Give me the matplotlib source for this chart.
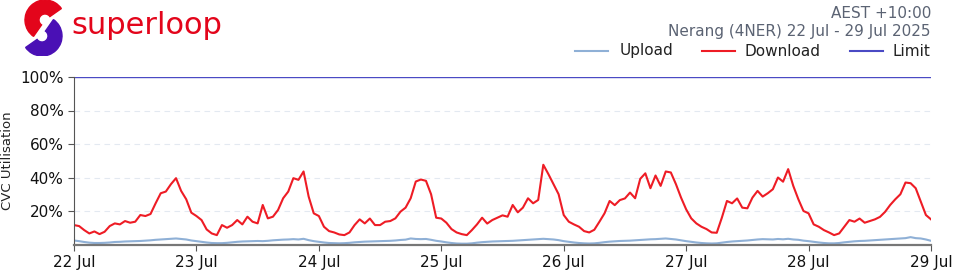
import numpy as np
import matplotlib
matplotlib.use("Agg")
import matplotlib.pyplot as plt
from matplotlib.patches import Wedge
from matplotlib.lines import Line2D

# dias no eixo x
dias = ["22 Jul", "23 Jul", "24 Jul", "25 Jul", "26 Jul", "27 Jul", "28 Jul", "29 Jul"]

# download (%), valores por hora, um dia por lista
download_22 = [11.6, 11.0, 8.6, 6.6, 7.8, 6.2, 7.6, 11.0, 12.6, 12.0, 14.0, 13.0, 13.6, 17.6, 17.0, 18.2, 24.6, 30.6, 31.6, 36.0, 39.6, 32.0, 27.0, 19.0]
download_23 = [17.0, 14.6, 9.0, 6.6, 5.6, 11.6, 10.0, 11.6, 14.6, 12.0, 16.6, 13.6, 12.6, 23.6, 15.6, 16.6, 20.6, 27.6, 31.6, 39.6, 38.6, 43.6, 28.6, 18.6]
download_24 = [17.0, 10.6, 8.0, 7.2, 6.0, 5.6, 7.2, 11.6, 15.0, 12.6, 15.5, 11.6, 11.6, 13.6, 14.0, 15.6, 19.6, 22.0, 27.6, 37.6, 38.8, 38.0, 30.0, 16.0]
download_25 = [15.5, 13.0, 9.2, 7.2, 6.2, 5.6, 8.6, 12.0, 16.0, 12.5, 14.6, 16.0, 17.4, 16.6, 23.6, 19.2, 22.0, 27.6, 24.6, 26.6, 47.6, 42.0, 36.0, 30.0]
download_26 = [17.6, 13.6, 12.0, 10.6, 8.0, 7.2, 8.8, 13.6, 18.6, 26.0, 23.5, 26.5, 27.5, 31.0, 27.6, 39.2, 42.5, 33.6, 41.2, 35.0, 43.6, 43.0, 36.0, 28.0]
download_27 = [21.0, 15.6, 12.6, 10.6, 9.2, 7.2, 7.0, 16.0, 26.0, 24.6, 27.5, 22.0, 21.6, 28.0, 32.0, 28.6, 30.6, 33.0, 40.0, 37.5, 45.0, 35.0, 27.0, 20.0]
download_28 = [18.6, 12.0, 10.6, 8.6, 7.2, 5.6, 6.6, 10.6, 14.6, 13.6, 15.5, 13.0, 14.0, 15.0, 16.5, 19.5, 23.6, 27.0, 30.0, 37.0, 36.6, 33.6, 25.6, 17.6]
download_fim = [15.0]

# upload (%), valores por hora
upload_22 = [2.4, 2.0, 1.5, 1.1, 0.9, 0.9, 1.0, 1.2, 1.5, 1.6, 1.8, 1.9, 2.0, 2.1, 2.3, 2.5, 2.8, 3.0, 3.2, 3.4, 3.6, 3.3, 3.0, 2.4]
upload_23 = [2.0, 1.6, 1.2, 0.9, 0.8, 0.8, 1.0, 1.3, 1.6, 1.8, 1.9, 2.0, 2.1, 2.0, 2.2, 2.5, 2.7, 2.9, 3.0, 3.2, 3.0, 3.4, 2.6, 2.0]
upload_24 = [1.6, 1.2, 0.9, 0.8, 0.7, 0.8, 1.0, 1.3, 1.5, 1.7, 1.8, 1.9, 2.0, 2.1, 2.2, 2.4, 2.7, 2.9, 3.6, 3.3, 3.2, 3.3, 2.8, 2.2]
upload_25 = [1.8, 1.3, 0.9, 0.6, 0.5, 0.5, 0.7, 1.1, 1.4, 1.6, 1.8, 1.9, 2.0, 2.1, 2.2, 2.4, 2.6, 2.8, 3.0, 3.2, 3.4, 3.2, 3.0, 2.6]
upload_26 = [2.0, 1.6, 1.2, 0.9, 0.7, 0.6, 0.7, 1.0, 1.4, 1.7, 1.9, 2.1, 2.2, 2.3, 2.5, 2.7, 2.9, 3.1, 3.2, 3.4, 3.6, 3.3, 3.0, 2.5]
upload_27 = [2.0, 1.6, 1.2, 0.9, 0.7, 0.6, 0.7, 1.1, 1.5, 1.8, 2.0, 2.2, 2.4, 2.7, 3.0, 3.2, 3.1, 3.0, 3.3, 3.1, 3.4, 3.0, 2.8, 2.3]
upload_28 = [2.0, 1.6, 1.2, 0.9, 0.7, 0.7, 0.9, 1.3, 1.6, 1.9, 2.1, 2.2, 2.4, 2.6, 2.8, 3.0, 3.2, 3.4, 3.6, 3.8, 4.4, 3.8, 3.6, 3.0]
upload_fim = [2.2]

limite = 100

download = np.array(download_22 + download_23 + download_24 + download_25 + download_26 + download_27 + download_28 + download_fim)
upload = np.array(upload_22 + upload_23 + upload_24 + upload_25 + upload_26 + upload_27 + upload_28 + upload_fim)
horas = np.arange(len(download))

cor_upload = '#8fb0d6'
cor_download = '#ee1c25'
cor_limite = '#4a4ac4'
cor_cinza = '#5b6373'

fig = plt.figure(figsize=(9.6, 2.75), dpi=100)
ax = fig.add_axes([74 / 960, 1 - 244.5 / 275, (931 - 74) / 960, (244.5 - 77) / 275])

ax.plot(horas, upload, color=cor_upload, linewidth=1.5)
ax.plot(horas, download, color=cor_download, linewidth=1.5)
ax.axhline(limite, color=cor_limite, linewidth=1.0)

ax.set_xlim(0, 168)
ax.set_ylim(0, 100)
ax.set_xticks(np.arange(0, 169, 24))
ax.set_xticklabels(dias, fontsize=11)
ax.set_yticks([20, 40, 60, 80, 100])
ax.set_yticklabels(['20%', '40%', '60%', '80%', '100%'], fontsize=11)
ax.set_ylabel('CVC Utilisation', fontsize=9.5, color='#222222')
ax.yaxis.set_label_coords(-(74 - 14) / 857, 0.5)

for y in [20, 40, 60, 80]:
    ax.axhline(y, color='#e3e9f1', linewidth=0.8, linestyle=(0, (5, 4)), zorder=0)

ax.spines['top'].set_visible(False)
ax.spines['right'].set_visible(False)
ax.spines['left'].set_color('#555555')
ax.spines['bottom'].set_color('#777777')
ax.spines['bottom'].set_linewidth(1.6)
ax.tick_params(axis='both', colors='#555555', labelcolor='#111111', length=4)

# cabeçalho à direita
fig.text(931 / 960, 1 - 14 / 275, 'AEST +10:00', ha='right', va='center', fontsize=11, color=cor_cinza)
fig.text(931 / 960, 1 - 31 / 275, 'Nerang (4NER) 22 Jul - 29 Jul 2025', ha='right', va='center', fontsize=11, color=cor_cinza)

# legenda manual
itens = [('Upload', cor_upload, 575, 620), ('Download', cor_download, 702, 745), ('Limit', cor_limite, 850, 893)]
for nome, cor, x0, xt in itens:
    fig.add_artist(Line2D([x0 / 960, (x0 + 33) / 960], [1 - 51 / 275, 1 - 51 / 275], color=cor, linewidth=1.5))
    fig.text(xt / 960, 1 - 51 / 275, nome, ha='left', va='center', fontsize=11, color='#222222')

# logo
fig.text(71 / 960, 1 - 25 / 275, 'superloop', ha='left', va='center', fontsize=22, color='#e3051b')
ax_logo = fig.add_axes([0, 1 - 56 / 275, 70 / 960, 56 / 275])
ax_logo.set_xlim(0, 70)
ax_logo.set_ylim(0, 56)
ax_logo.set_aspect('equal')
ax_logo.axis('off')
ax_logo.add_patch(Wedge((45, 36), 20, 35, 235, width=14, color='#e3051b'))
ax_logo.add_patch(Wedge((42, 20), 20, -145, 55, width=14, color='#4a10b5'))

plt.savefig('out.png', dpi=100)
